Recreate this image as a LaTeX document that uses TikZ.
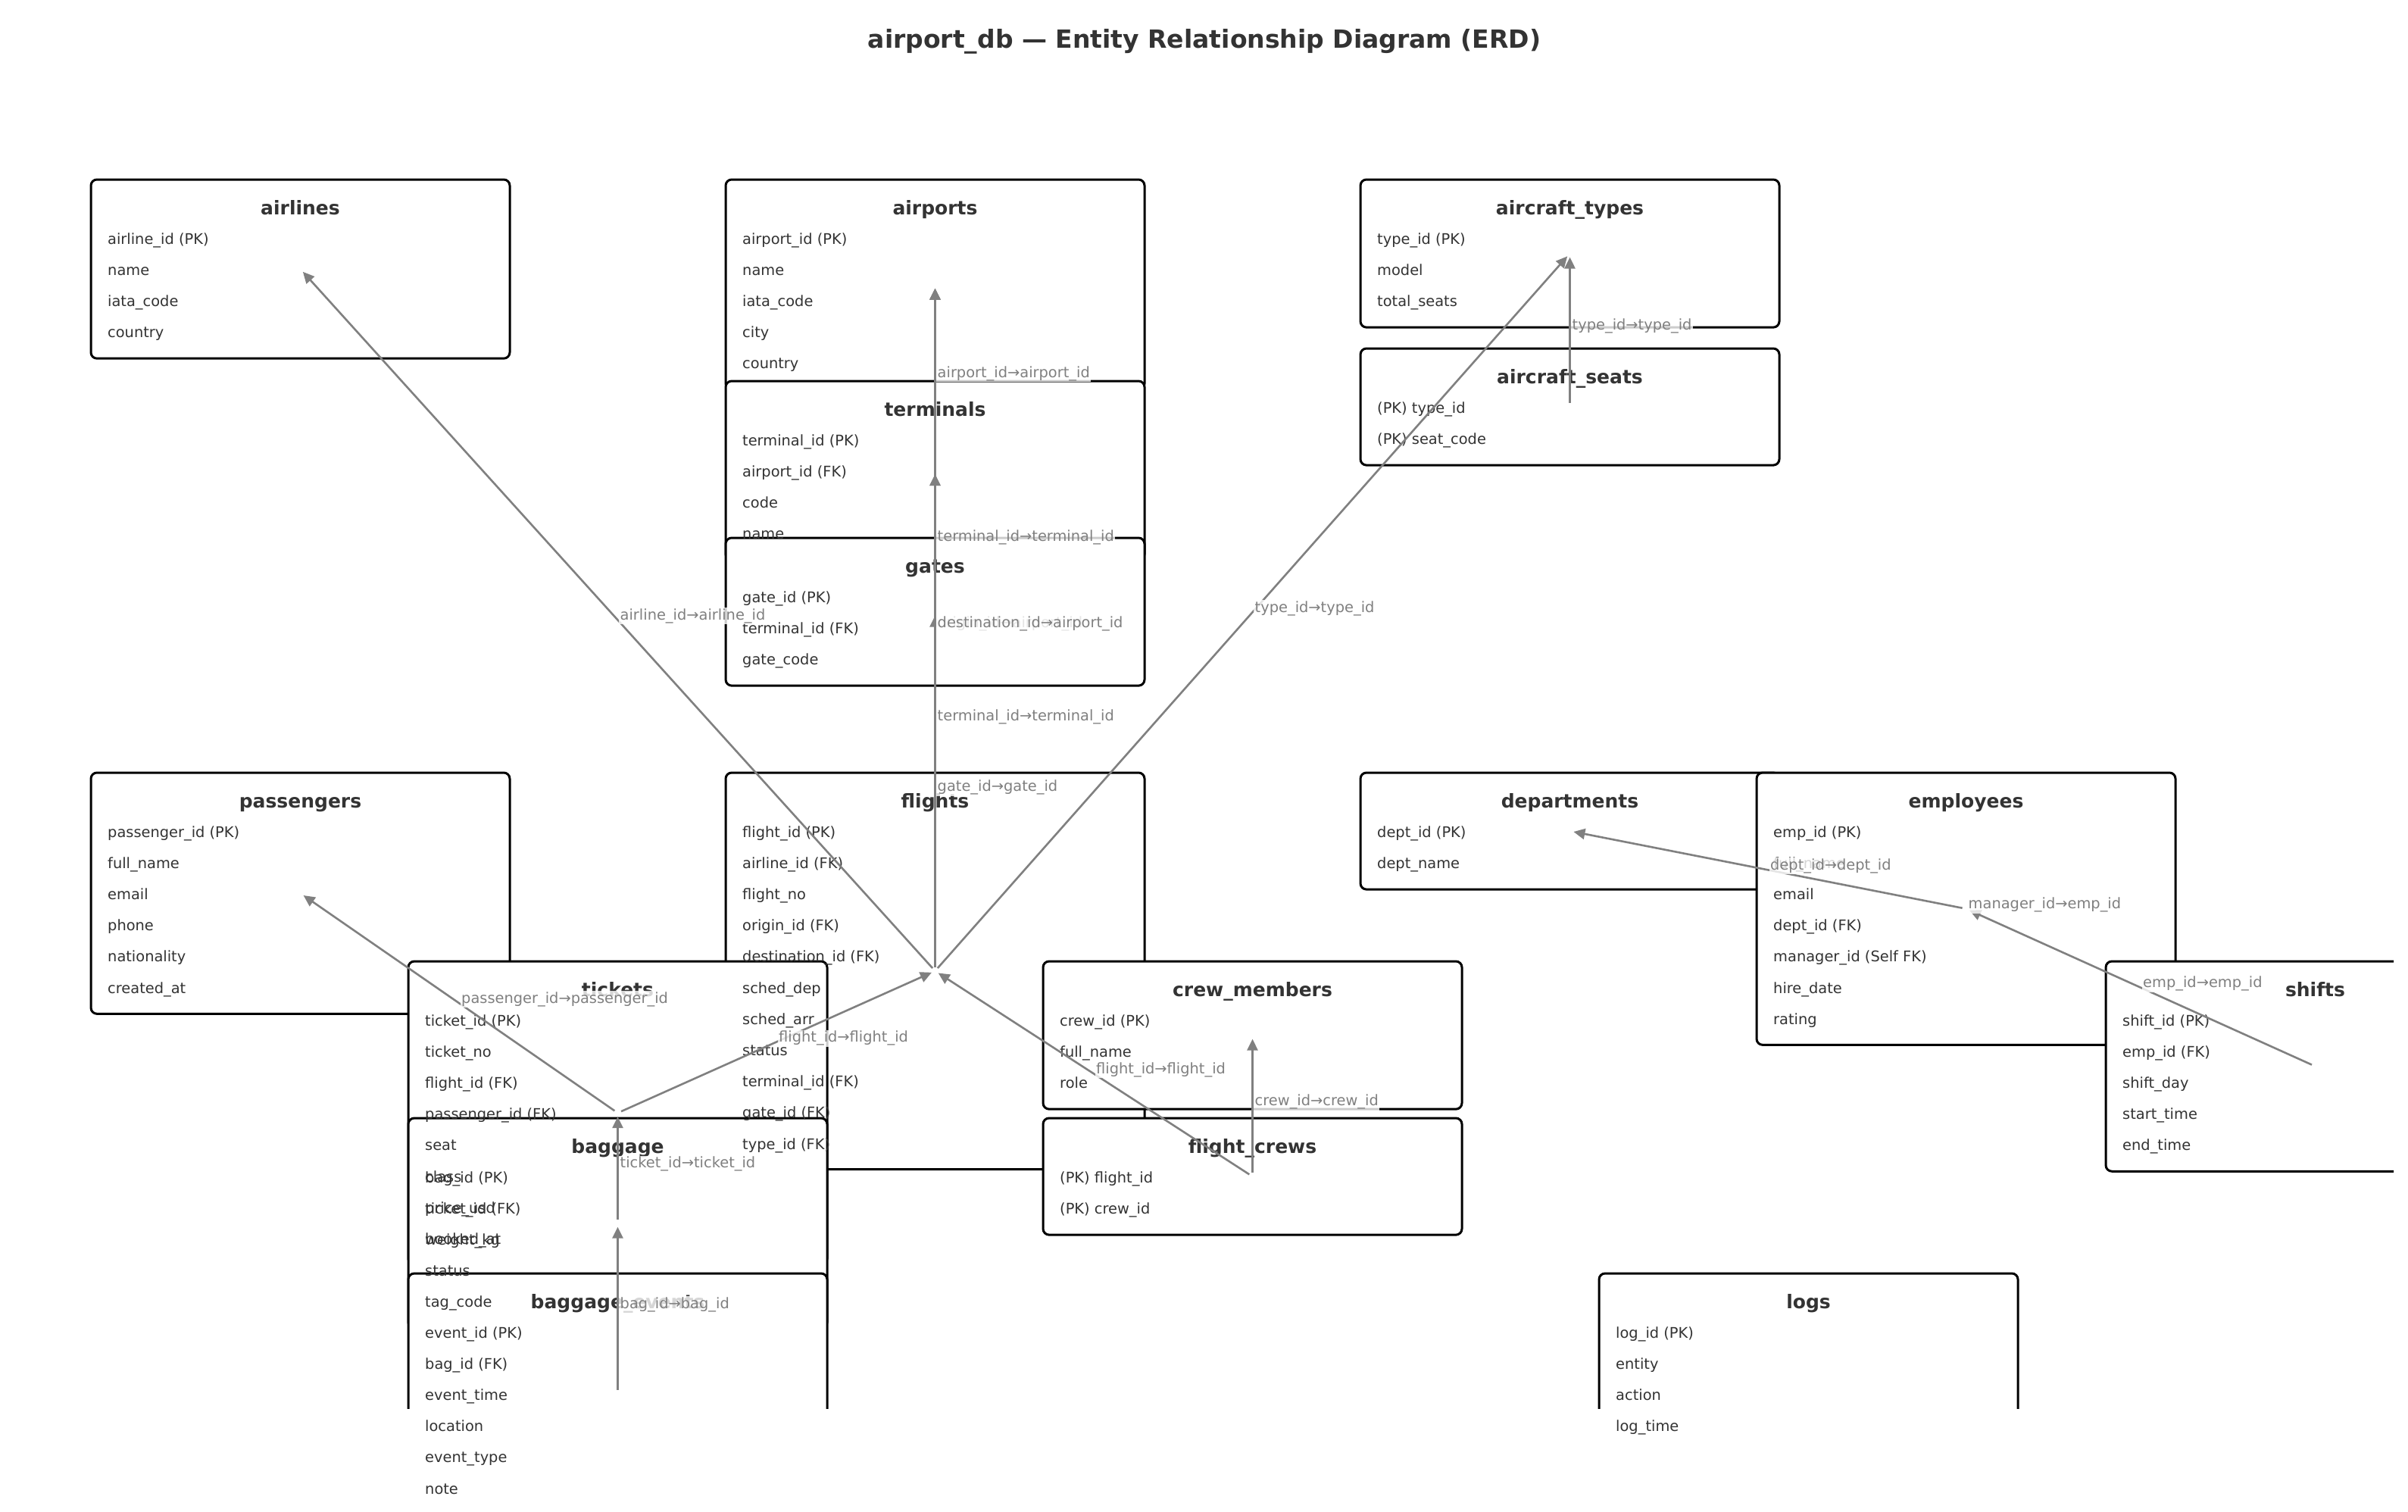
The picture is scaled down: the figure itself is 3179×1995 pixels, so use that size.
\documentclass[tikz,border=0pt]{standalone}
\usepackage{fontspec}
\setmainfont{DejaVu Sans}
\usetikzlibrary{arrows.meta}
\definecolor{txt}{HTML}{333333}
\definecolor{edgec}{HTML}{808080}
\newcommand{\erfield}{\fontsize{19.4bp}{23bp}\selectfont}
\newcommand{\ertitle}{\fontsize{25bp}{30bp}\selectfont\bfseries}
\newcommand{\ermain}{\fontsize{33bp}{40bp}\selectfont\bfseries}
\pgfdeclarelayer{boxes}
\pgfdeclarelayer{arrows}
\pgfdeclarelayer{labels}
\pgfsetlayers{boxes,main,arrows,labels}
\tikzset{
  tbox/.style={draw=black, line width=3bp, fill=white, rounded corners=8bp,
    minimum width=553bp, inner sep=0pt, outer sep=0pt},
  ttext/.style={font=\ertitle, text=txt, inner sep=0pt, text height=18.5bp, text depth=5.5bp},
  ftext/.style={font=\erfield, text=txt, anchor=west, inner sep=0pt, text height=14.5bp, text depth=4.5bp},
  fk/.style={draw=edgec, line width=2.6bp, -{Triangle[length=15bp,width=14bp]},
    shorten >=5bp, shorten <=5bp},
  lbl/.style={font=\erfield, text=edgec, anchor=base west, inner sep=1.5bp, xshift=1.5bp,
    fill=white, fill opacity=0.8, text opacity=1, text height=14.5bp, text depth=4.5bp}
}
\newcommand{\ertable}[6]{%
  \begin{pgfonlayer}{boxes}
    \begin{scope}
      \clip (0,0) rectangle (3160,1859);
      \node[tbox, minimum height={72bp+#4*41.05bp}, anchor=north west] (#1) at (#2,#3) {};
    \end{scope}
  \end{pgfonlayer}
  \node[ttext] (#1-title) at ({#2+276.5},{#3+40}) {#5};
  \foreach \fld [count=\i from 0] in {#6} {\node[ftext] at ({#2+22},{#3+80+41.2*\i}) {\fld};}
}
\begin{document}
\begin{tikzpicture}[x=1bp, y=-1bp]
\useasboundingbox (0,0) rectangle (3179,1995);
\begin{pgfonlayer}{boxes}
  \fill[white] (0,0) rectangle (3179,1995);
\end{pgfonlayer}

\node[font=\ermain, text=txt, inner sep=0pt] (title) at (1590,55)
  {airport\_db — Entity Relationship Diagram (ERD)};

\ertable{airlines}{120}{237}{4}{airlines}{{airline\_id (PK)}, {name}, {iata\_code}, {country}}
\ertable{airports}{958}{237}{5}{airports}{{airport\_id (PK)}, {name}, {iata\_code}, {city}, {country}}
\ertable{terminals}{958}{503}{4}{terminals}{{terminal\_id (PK)}, {airport\_id (FK)}, {code}, {name}}
\ertable{gates}{958}{710}{3}{gates}{{gate\_id (PK)}, {terminal\_id (FK)}, {gate\_code}}
\ertable{airtypes}{1796}{237}{3}{aircraft\_types}{{type\_id (PK)}, {model}, {total\_seats}}
\ertable{airseats}{1796}{460}{2}{aircraft\_seats}{{(PK) type\_id}, {(PK) seat\_code}}
\ertable{passengers}{120}{1020}{6}{passengers}{{passenger\_id (PK)}, {full\_name}, {email}, {phone}, {nationality}, {created\_at}}
\ertable{flights}{958}{1020}{11}{flights}{{flight\_id (PK)}, {airline\_id (FK)}, {flight\_no}, {origin\_id (FK)}, {destination\_id (FK)}, {sched\_dep}, {sched\_arr}, {status}, {terminal\_id (FK)}, {gate\_id (FK)}, {type\_id (FK)}}
\ertable{tickets}{539}{1269}{8}{tickets}{{ticket\_id (PK)}, {ticket\_no}, {flight\_id (FK)}, {passenger\_id (FK)}, {seat}, {class}, {price\_usd}, {booked\_at}}
\ertable{baggage}{539}{1476}{5}{baggage}{{bag\_id (PK)}, {ticket\_id (FK)}, {weight\_kg}, {status}, {tag\_code}}
\ertable{bagevents}{539}{1681}{6}{baggage\_events}{{event\_id (PK)}, {bag\_id (FK)}, {event\_time}, {location}, {event\_type}, {note}}
\ertable{depts}{1796}{1020}{2}{departments}{{dept\_id (PK)}, {dept\_name}}
\ertable{employees}{2319}{1020}{7}{employees}{{emp\_id (PK)}, {full\_name}, {email}, {dept\_id (FK)}, {manager\_id (Self FK)}, {hire\_date}, {rating}}
\ertable{shifts}{2780}{1269}{5}{shifts}{{shift\_id (PK)}, {emp\_id (FK)}, {shift\_day}, {start\_time}, {end\_time}}
\ertable{crew}{1377}{1269}{3}{crew\_members}{{crew\_id (PK)}, {full\_name}, {role}}
\ertable{flcrews}{1377}{1476}{2}{flight\_crews}{{(PK) flight\_id}, {(PK) crew\_id}}
\ertable{logs}{2111}{1681}{4}{logs}{{log\_id (PK)}, {entity}, {action}, {log\_time}}

\begin{pgfonlayer}{arrows}
  \draw[fk] (terminals.center) -- (airports.center);
  \draw[fk] (gates.center) -- (terminals.center);
  \draw[fk] (flights.center) -- (airlines.center);
  \draw[fk] (flights.center) -- (airports.center);
  \draw[fk] (flights.center) -- (airports.center);
  \draw[fk] (flights.center) -- (terminals.center);
  \draw[fk] (flights.center) -- (gates.center);
  \draw[fk] (flights.center) -- (airtypes.center);
  \draw[fk] (airseats.center) -- (airtypes.center);
  \draw[fk] (tickets.center) -- (flights.center);
  \draw[fk] (tickets.center) -- (passengers.center);
  \draw[fk] (baggage.center) -- (tickets.center);
  \draw[fk] (bagevents.center) -- (baggage.center);
  \draw[fk] (employees.center) -- (depts.center);
  \draw[fk] (shifts.center) -- (employees.center);
  \draw[fk] (flcrews.center) -- (flights.center);
  \draw[fk] (flcrews.center) -- (crew.center);
\end{pgfonlayer}

\begin{pgfonlayer}{labels}
  \path (terminals.center) -- (airports.center) node[lbl, midway] {airport\_id→airport\_id};
  \path (gates.center) -- (terminals.center) node[lbl, midway] {terminal\_id→terminal\_id};
  \path (flights.center) -- (airlines.center) node[lbl, midway] {airline\_id→airline\_id};
  \path (flights.center) -- (airports.center) node[lbl, midway] {origin\_id→airport\_id};
  \path (flights.center) -- (airports.center) node[lbl, midway] {destination\_id→airport\_id};
  \path (flights.center) -- (terminals.center) node[lbl, midway] {terminal\_id→terminal\_id};
  \path (flights.center) -- (gates.center) node[lbl, midway] {gate\_id→gate\_id};
  \path (flights.center) -- (airtypes.center) node[lbl, midway] {type\_id→type\_id};
  \path (airseats.center) -- (airtypes.center) node[lbl, midway] {type\_id→type\_id};
  \path (tickets.center) -- (flights.center) node[lbl, midway] {flight\_id→flight\_id};
  \path (tickets.center) -- (passengers.center) node[lbl, midway] {passenger\_id→passenger\_id};
  \path (baggage.center) -- (tickets.center) node[lbl, midway] {ticket\_id→ticket\_id};
  \path (bagevents.center) -- (baggage.center) node[lbl, midway] {bag\_id→bag\_id};
  \path (employees.center) -- (depts.center) node[lbl, midway] {dept\_id→dept\_id};
  \node[lbl] at (employees.center) {manager\_id→emp\_id};
  \path (shifts.center) -- (employees.center) node[lbl, midway] {emp\_id→emp\_id};
  \path (flcrews.center) -- (flights.center) node[lbl, midway] {flight\_id→flight\_id};
  \path (flcrews.center) -- (crew.center) node[lbl, midway] {crew\_id→crew\_id};
\end{pgfonlayer}
\end{tikzpicture}
\end{document}
